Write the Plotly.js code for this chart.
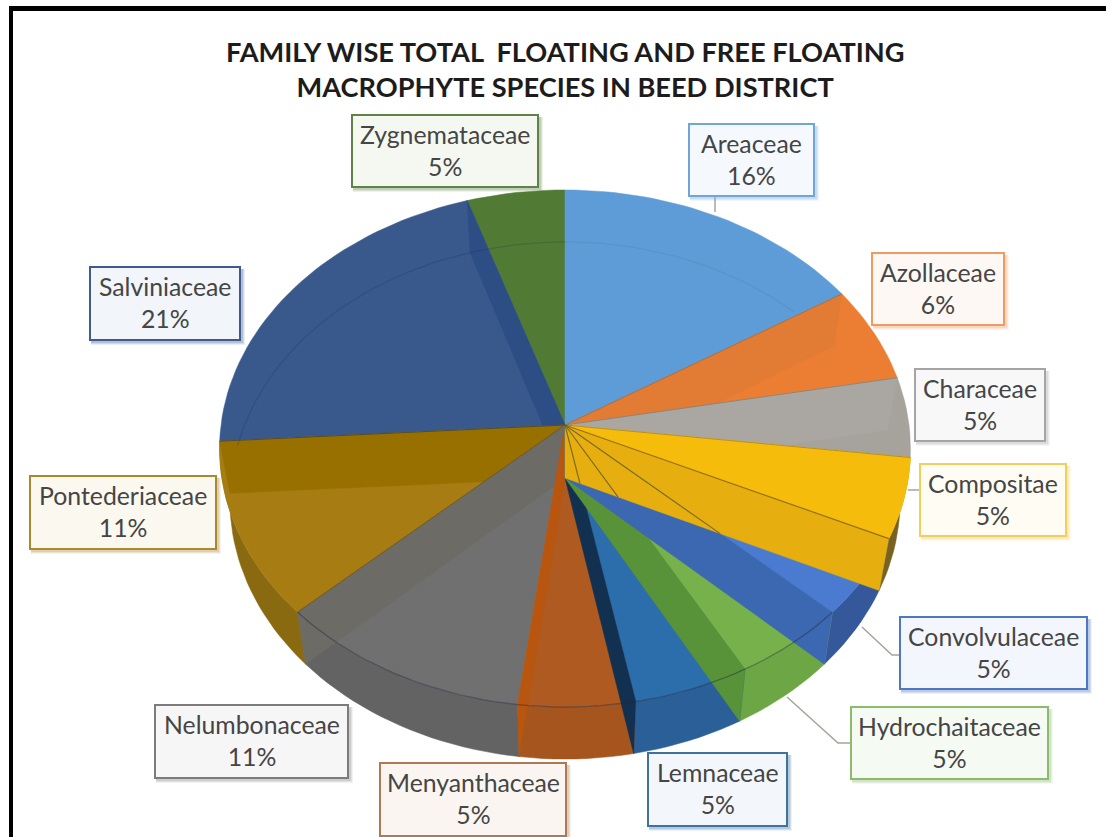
<!DOCTYPE html>
<html>
<head>
<meta charset="utf-8">
<script src="https://cdn.plot.ly/plotly-3.0.1.min.js"></script>
<style>html,body{margin:0;padding:0;background:#fff}#chart{width:1106px;height:837px}</style>
</head>
<body>
<div id="chart"></div>
<script>
// Family shares of floating and free floating macrophytes, clockwise from twelve o'clock
const families = ["Areaceae","Azollaceae","Characeae","Compositae","Convolvulaceae","Hydrochaitaceae",
                  "Lemnaceae","Menyanthaceae","Nelumbonaceae","Pontederiaceae","Salviniaceae","Zygnemataceae"];
const shares = [16,6,5,5,5,5,5,5,11,11,21,5];

// Shades per family: upper face, cut face, outer wall, label border, label fill
const faceColors  = ["#5E9CD7","#EC7E33","#A6A29C","#F6BC0B","#4A7BD0","#76B14B","#2C6DAB","#AE5A21","#707070","#A67C13","#39598D","#517B35"];
const cutColors   = ["#5E9CD7","#E27C35","#AAA7A3","#E7AE0F","#3B68B0","#58933A","#12304F","#B8560F","#6C6B66","#977000","#2D4E85","#517B35"];
const wallColors  = ["#5E9CD7","#EC7E33","#A6A29C","#77631F","#35589A","#6DA645","#2B5F98","#A6551F","#636363","#8A6A10","#39598D","#517B35"];
const boxBorders  = ["#6FA5DA","#EE9A62","#A5A5A5","#F2CE5C","#4F78C4","#8DBB6D","#3F739E","#AE7A55","#7C7C7C","#A8892F","#3F5A8C","#5F8247"];
const boxFills    = ["#F5F9FD","#FEF8F4","#F8F8F8","#FFFCF3","#F3F6FC","#F5FAF2","#F3F7FB","#FAF5F1","#F6F6F6","#FBF8F0","#F2F5FA","#F5F8F1"];

// Label box extents in page pixels: left, right, top, bottom
const labelBoxes = [[689,814,124,196],[872,1004,253,325],[915,1045,369,441],[920,1066,464,536],
                    [900,1087,617,689],[851,1048,707,779],[648,787,753,826],[380,566,763,836],
                    [155,348,705,778],[30,216,476,549],[90,240,267,340],[352,538,115,187]];
// Leader lines from the slice edge to its label
const leaders = [[[715,212],[715,196]],[[908,490],[920,490]],[[862,627],[892,655],[900,655]],[[787,697],[838,743],[851,743]]];

// Perspective disc: centre of the disc, radius, foreshortened depth, perspective strength
const CX = 565, CY = 425, RADIUS = 344, DEPTH = 256.4, PERSP = 0.0909;
const THICK = 52, BASE_SCALE = 0.97;

function rim(pct) {
  const t = 2 * Math.PI * pct / 100, d = 1 + PERSP * Math.cos(t);
  return [CX + RADIUS * Math.sin(t) / d, CY - DEPTH * Math.cos(t) / d];
}
function ring(pct) {
  const p = rim(pct);
  return [CX + (p[0] - CX) * BASE_SCALE, p[1] + THICK];
}
function arc(fn, from, to) {
  const pts = [], n = Math.max(2, Math.ceil(Math.abs(to - from) * 2));
  for (let i = 0; i <= n; i++) pts.push(fn(from + (to - from) * i / n));
  return pts;
}
const APEX = [CX, CY], BASE_APEX = [CX, CY + THICK + 1];

// Cumulative start and end of each slice
const starts = [], ends = [];
shares.reduce((sum, v, i) => { starts[i] = sum; ends[i] = sum + v; return sum + v; }, 0);

function poly(pts, color, lineColor) {
  return { type: "scatter", mode: "lines", x: pts.map(p => p[0]), y: pts.map(p => p[1]),
           fill: "toself", fillcolor: color, line: { color: lineColor || color, width: lineColor ? 1 : 0.5 },
           hoverinfo: "skip", showlegend: false };
}
function stroke(pts, color, width) {
  return { type: "scatter", mode: "lines", x: pts.map(p => p[0]), y: pts.map(p => p[1]),
           line: { color, width }, hoverinfo: "skip", showlegend: false };
}
const close = pts => pts.concat([pts[0]]);
const face = i => poly(close([APEX, ...arc(rim, starts[i], ends[i])]), faceColors[i]);
const cut = (pct, i) => poly(close([APEX, rim(pct), ring(pct), BASE_APEX]), cutColors[i]);
const outerWall = i => poly(close([...arc(rim, starts[i], ends[i]), ...arc(ring, ends[i], starts[i])]), wallColors[i]);

// Where the line from the apex to a rim point meets the lower edge of the Compositae cut
function fanEnd(pct, end) {
  const r = rim(pct), q = ring(end);
  const dx = r[0] - APEX[0], dy = r[1] - APEX[1], ex = q[0] - BASE_APEX[0], ey = q[1] - BASE_APEX[1];
  const s = (ex * (BASE_APEX[1] - APEX[1])) / (dy * ex - dx * ey);
  return [APEX[0] + dx * s, APEX[1] + dy * s];
}

const idx = name => families.indexOf(name);
const Ar = idx("Areaceae"), Az = idx("Azollaceae"), Ch = idx("Characeae"), Co = idx("Compositae"),
      Cv = idx("Convolvulaceae"), Hy = idx("Hydrochaitaceae"), Le = idx("Lemnaceae"), Me = idx("Menyanthaceae"),
      Ne = idx("Nelumbonaceae"), Po = idx("Pontederiaceae"), Sa = idx("Salviniaceae"), Zy = idx("Zygnemataceae");

const traces = [];
// Outer walls of the near half
[Co, Cv, Hy, Le, Me, Ne, Po].forEach(i => traces.push(outerWall(i)));
// Far half, back to front
traces.push(face(Zy), face(Ar), face(Az), cut(ends[Ar], Az), face(Ch));
traces.push(cut(ends[Az], Ch), face(Co));
// Left side, going round to the front
traces.push(face(Sa), cut(ends[Sa], Sa), face(Po), cut(ends[Po], Po), face(Ne), cut(ends[Ne], Ne));
traces.push(face(Me), cut(ends[Me], Me));
// Right side, going round to the front
traces.push(face(Le), cut(ends[Le], Le), face(Hy), cut(ends[Hy], Hy), face(Cv), cut(ends[Cv], Cv));
traces.push(face(Co), cut(ends[Co], Co));
traces.push(poly(close([APEX, ...arc(rim, starts[Co], ends[Co])]), faceColors[Co]));

// Edges that show through the slices
[ends[Cv], ends[Hy], ends[Le]].forEach(p => traces.push(stroke([APEX, fanEnd(p, ends[Co])], "rgba(105,95,40,0.85)", 1.2)));
traces.push(stroke([APEX, rim(ends[Co])], "rgba(120,90,20,0.75)", 1.2));
traces.push(stroke(arc(rim, ends[Cv], ends[Ne]), "rgba(30,40,60,0.45)", 1.2));
traces.push(stroke(arc(ring, ends[Po] + 3, 100), "rgba(20,30,60,0.18)", 1.2));
traces.push(stroke(arc(ring, 0, ends[Ar] - 3), "rgba(40,70,110,0.10)", 1.2));
// Dark slice dividers
[ends[Ar], ends[Az], ends[Ch]].forEach(p => traces.push(stroke([APEX, rim(p)], "rgba(110,90,60,0.45)", 1)));
traces.push(stroke([APEX, rim(ends[Po])], "rgba(40,50,70,0.6)", 1));
traces.push(stroke([APEX, rim(ends[Ne])], "rgba(110,85,10,0.7)", 1));
// Leader lines
leaders.forEach(l => traces.push(stroke(l, "#A9A39B", 1.5)));

const shapes = [], annotations = [];
labelBoxes.forEach((b, i) => {
  // Soft drop shadow behind each label
  [[5, 0.10], [4, 0.14], [3, 0.2]].forEach(([o, a]) => shapes.push({
    type: "rect", layer: "below", xref: "x", yref: "y", x0: b[0] + 1, x1: b[1] + o, y0: b[2] + 2, y1: b[3] + o,
    fillcolor: boxBorders[i], opacity: a, line: { width: 0 } }));
  shapes.push({ type: "rect", layer: "above", xref: "x", yref: "y", x0: b[0], x1: b[1], y0: b[2], y1: b[3],
    fillcolor: boxFills[i], line: { color: boxBorders[i], width: 2 } });
  annotations.push({
    xref: "x", yref: "y", x: (b[0] + b[1]) / 2, y: (b[2] + b[3]) / 2, yshift: 1, showarrow: false, align: "center",
    text: `${families[i]}<br>${shares[i]}%`,
    font: { family: "Lato, Carlito, sans-serif", size: 24.8, color: "#454545" } });
});
// Outer frame: top and left rules
shapes.push({ type: "rect", xref: "x", yref: "y", x0: 9, x1: 1106, y0: 6, y1: 11, fillcolor: "#000", line: { width: 0 }, layer: "above" });
shapes.push({ type: "rect", xref: "x", yref: "y", x0: 9, x1: 13, y0: 6, y1: 837, fillcolor: "#000", line: { width: 0 }, layer: "above" });

const layout = {
  width: 1106, height: 837, margin: { l: 0, r: 0, t: 0, b: 0 },
  paper_bgcolor: "#fff", plot_bgcolor: "#fff", showlegend: false,
  title: { text: "FAMILY WISE TOTAL  FLOATING AND FREE FLOATING<br>MACROPHYTE SPECIES IN BEED DISTRICT",
           x: 0.511, xanchor: "center", y: 0.926, yanchor: "middle",
           font: { family: "Lato, Carlito, sans-serif", size: 27.2, color: "#1c1c1c", weight: 700 } },
  xaxis: { range: [0, 1106], visible: false, fixedrange: true },
  yaxis: { range: [837, 0], visible: false, fixedrange: true },
  shapes, annotations
};
Plotly.newPlot("chart", traces, layout, { staticPlot: true, displayModeBar: false });
</script>
</body>
</html>
